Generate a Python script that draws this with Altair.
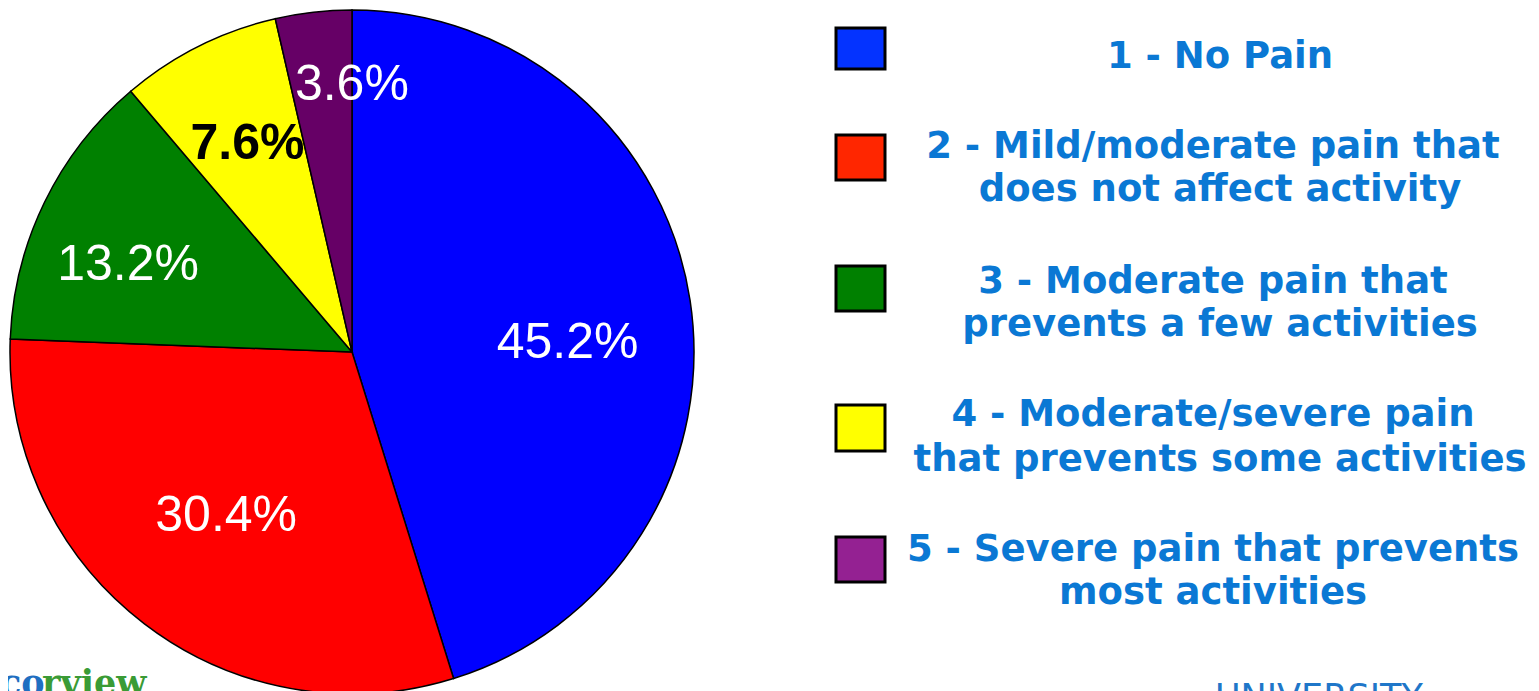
import altair as alt
import pandas as pd

# ---- data ----
categories = ["1 - No Pain",
              "2 - Mild/moderate pain that does not affect activity",
              "3 - Moderate pain that prevents a few activities",
              "4 - Moderate/severe pain that prevents some activities",
              "5 - Severe pain that prevents most activities"]
values = [45.2, 30.4, 13.2, 7.6, 3.6]
labels = ["45.2%", "30.4%", "13.2%", "7.6%", "3.6%"]
slice_colors = ["#0000FF", "#FF0000", "#008000", "#FFFF00", "#660066"]
legend_colors = ["#0433FF", "#FF2600", "#008000", "#FFFF00", "#942192"]
legend_lines = [["1 - No Pain"],
                ["2 - Mild/moderate pain that", "does not affect activity"],
                ["3 - Moderate pain that", "prevents a few activities"],
                ["4 - Moderate/severe pain", "that prevents some activities"],
                ["5 - Severe pain that prevents", "most activities"]]

# ---- layout (pixels in chart coordinates) ----
W, H = 1523, 683
CX, CY, R = 344, 344, 342
label_style = [  # radius, dx, dy, color, weight
    (216, 2, 23, "white", "normal"),
    (207, 0, 0, "white", "normal"),
    (240, -8, 18, "white", "normal"),
    (233, 0, 0, "black", "bold"),
    (267, 30, -2, "white", "normal"),
]
sq_x0, sq_x1 = 828, 877
sq_y = [(20, 61), (127, 172), (258, 303), (397, 443), (529, 574)]
line_pos = [[(1212, 49)],
            [(1205, 139), (1212, 182)],
            [(1205, 274), (1212, 317)],
            [(1205, 407), (1212, 452)],
            [(1205, 542), (1205, 585)]]

df = pd.DataFrame({"cat": categories, "value": values, "label": labels,
                   "idx": list(range(len(values)))})

base = alt.Chart(df)
arcs = base.mark_arc(outerRadius=R, stroke="black", strokeWidth=1.5).encode(
    theta=alt.Theta("value:Q", stack=True),
    color=alt.Color("cat:N", scale=alt.Scale(domain=categories, range=slice_colors), legend=None),
    order=alt.Order("idx:Q"),
    x=alt.value(CX), y=alt.value(CY),
)

layers = [arcs]
for i, (r, dx, dy, col, wt) in enumerate(label_style):
    t = base.transform_calculate(
        t=f"datum.idx == {i} ? datum.label : ''"
    ).mark_text(radius=r, dx=dx, dy=dy, fontSize=50, font="Liberation Sans",
                fontWeight=wt, color=col, baseline="middle", align="center").encode(
        theta=alt.Theta("value:Q", stack=True),
        order=alt.Order("idx:Q"),
        text="t:N",
        x=alt.value(CX), y=alt.value(CY),
    )
    layers.append(t)

sq_df = pd.DataFrame({"cat": categories,
                      "x0": [sq_x0] * 5, "x1": [sq_x1] * 5,
                      "y0": [a for a, b in sq_y], "y1": [b for a, b in sq_y]})
squares = alt.Chart(sq_df).mark_rect(stroke="black", strokeWidth=3).encode(
    x=alt.X("x0:Q", scale=None), x2="x1:Q",
    y=alt.Y("y0:Q", scale=None), y2="y1:Q",
    color=alt.Color("cat:N", scale=alt.Scale(domain=categories, range=legend_colors), legend=None),
)

rows = []
for lines, poss in zip(legend_lines, line_pos):
    for txt, (x, y) in zip(lines, poss):
        rows.append({"txt": txt, "x": x, "y": y})
lt_df = pd.DataFrame(rows)
legend_text = alt.Chart(lt_df).mark_text(font="DejaVu Sans", fontWeight="bold", fontSize=37,
                                         color="#0A78D4", align="center", baseline="middle").encode(
    x=alt.X("x:Q", scale=None), y=alt.Y("y:Q", scale=None), text="txt:N")

# bottom logos (cut off by the page edge)
logo_df = pd.DataFrame({"txt": ["co", "rview", "UNIVERSITY"],
                        "x": [-8, 34, 1207], "y": [687, 687, 701],
                        "col": ["#1F6FC1", "#3A9B35", "#1F77C9"]})
logo_serif = alt.Chart(logo_df).transform_filter("datum.txt != 'UNIVERSITY'").mark_text(
    font="DejaVu Serif", fontWeight="bold", fontSize=35, align="left", baseline="alphabetic").encode(
    x=alt.X("x:Q", scale=None), y=alt.Y("y:Q", scale=None), text="txt:N",
    color=alt.Color("col:N", scale=None))
logo_sans = alt.Chart(logo_df).transform_filter("datum.txt == 'UNIVERSITY'").mark_text(
    font="DejaVu Sans", fontSize=35, align="left", baseline="alphabetic").encode(
    x=alt.X("x:Q", scale=None), y=alt.Y("y:Q", scale=None), text="txt:N",
    color=alt.Color("col:N", scale=None))

layers += [squares, legend_text, logo_serif, logo_sans]

chart = alt.layer(*layers).resolve_scale(color="independent").properties(
    width=W, height=H, autosize=alt.AutoSizeParams(type="none"), padding=0
).configure_view(strokeWidth=0)

chart.save("out.html", embed_options={"renderer": "svg", "actions": False})
